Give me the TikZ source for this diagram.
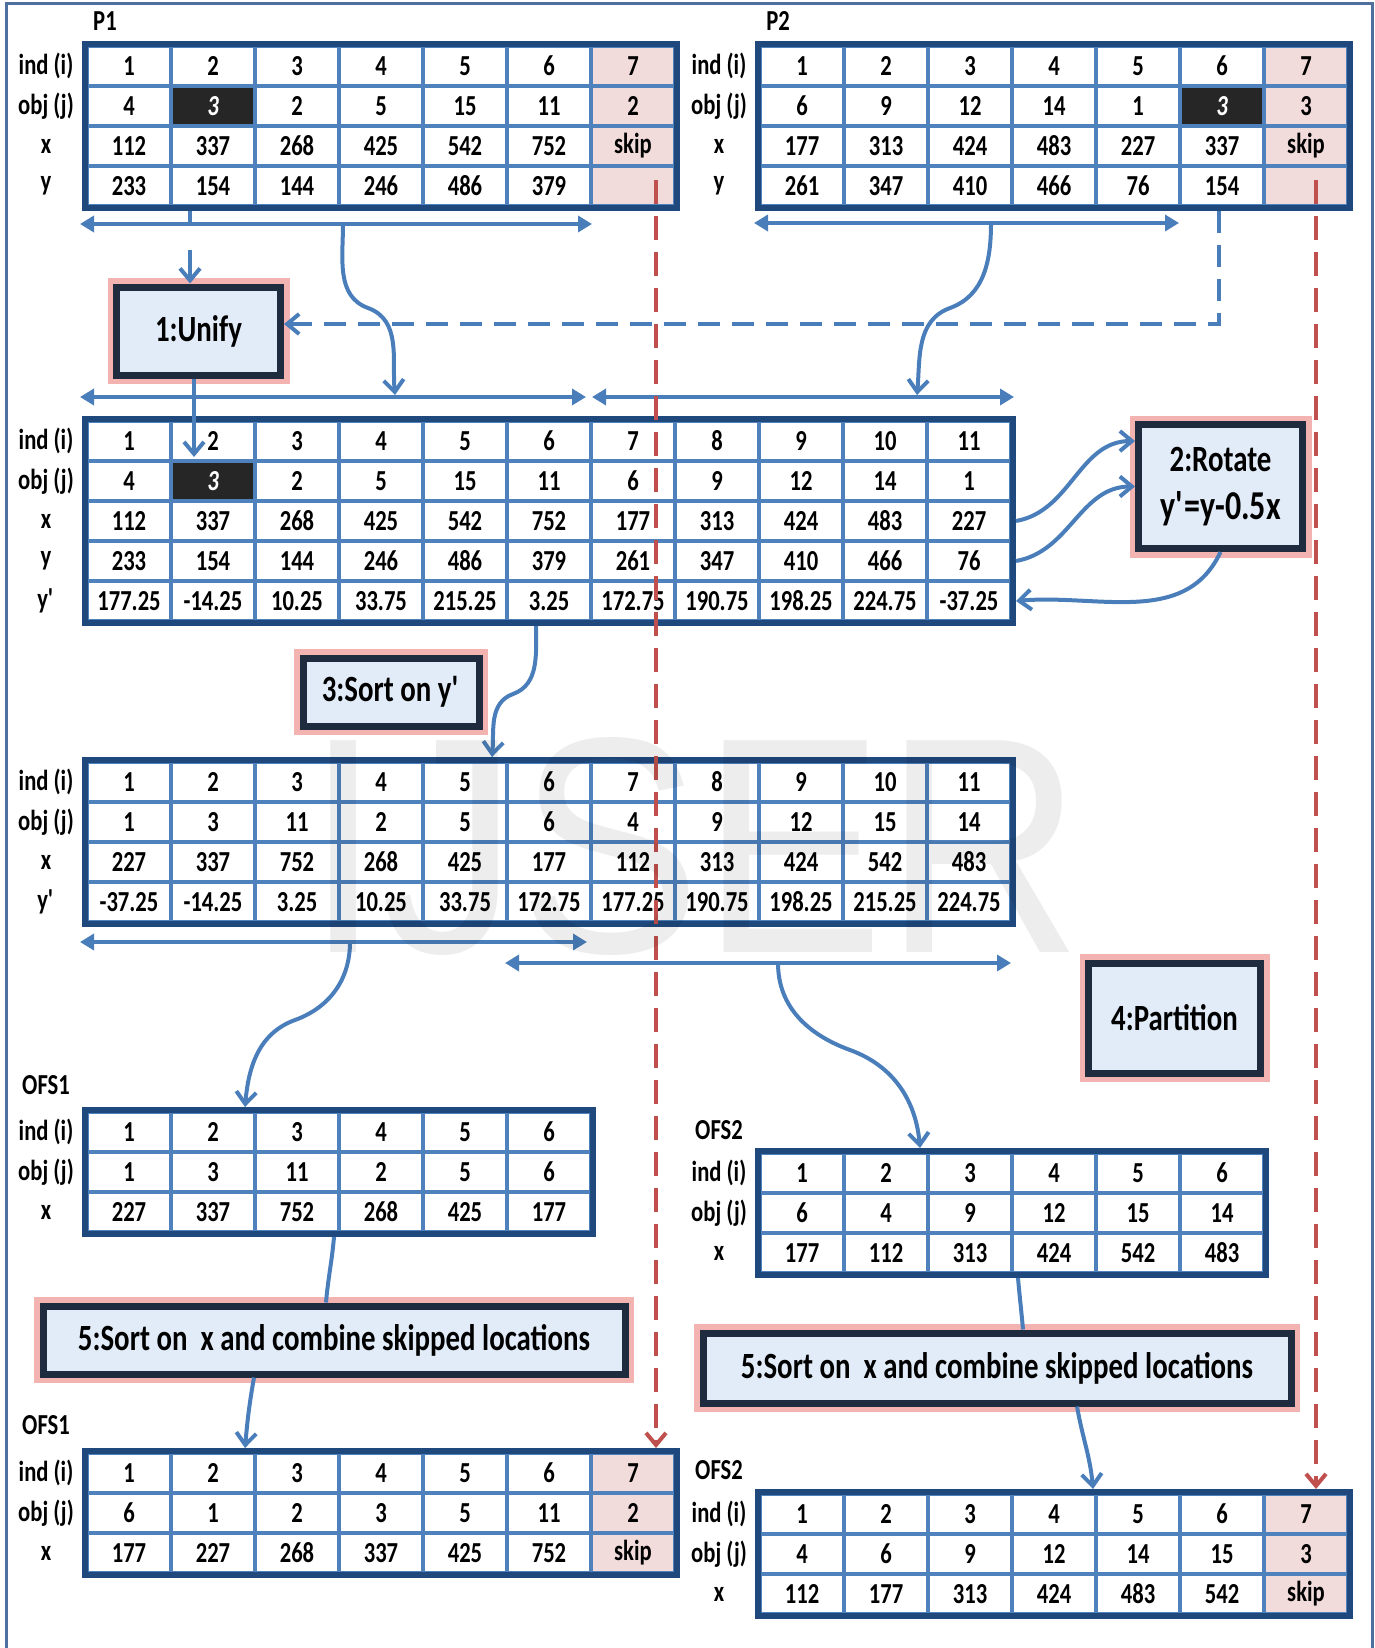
\documentclass[tikz,border=0pt]{standalone}
\usepackage{fontspec}
\setmainfont{Carlito}[FakeStretch=0.78]
\newfontfamily\wmfont{Liberation Sans}
\usetikzlibrary{arrows.meta,fit,positioning}

\definecolor{gridblue}{HTML}{4F81BD}
\definecolor{tabnavy}{HTML}{1F497D}
\definecolor{boxline}{HTML}{1F2C3F}
\definecolor{boxfill}{HTML}{E2ECF8}
\definecolor{glowpink}{HTML}{F2B3B1}
\definecolor{skipfill}{HTML}{F2DCDB}
\definecolor{hlfill}{HTML}{262626}
\definecolor{flowblue}{HTML}{4A7EBB}
\definecolor{skipred}{HTML}{C0504D}
\definecolor{framecol}{HTML}{4F6F9F}

\newcommand{\tabfont}{\fontsize{14.5}{16}\selectfont\bfseries}
\newcommand{\boxfont}{\fontsize{18.5}{24}\selectfont\bfseries}

% one table row: name, x of first cell, y, row label, cells
\newcommand{\tabrow}[5]{%
  \node[rowlab] (#1-lab) at (#2-83,#3) {#4};
  \foreach \val [count=\k] in {#5}
    \node[cell] (#1-\k) at (#2+84*\k-84,#3) {\val};
}

\begin{document}
\begin{tikzpicture}[x=0.5pt,y=-0.5pt,
  cell/.style={draw=gridblue,line width=2.2pt,fill=white,minimum width=42pt,minimum height=20pt,inner sep=0pt,outer sep=0pt,font=\tabfont},
  skipcell/.style={cell,fill=skipfill},
  hlcell/.style={cell,fill=hlfill,text=white,font=\tabfont\itshape},
  rowlab/.style={font=\tabfont},
  tablab/.style={font=\tabfont},
  tabframe/.style={draw=tabnavy,line width=3pt,inner sep=1pt},
  stepbox/.style={draw=boxline,line width=3.5pt,fill=boxfill,align=center,font=\boxfont,inner sep=2pt,preaction={draw=glowpink,line width=9pt}},
  span/.style={draw=flowblue,line width=2pt,{Triangle[length=7pt,width=8pt]}-{Triangle[length=7pt,width=8pt]}},
  link/.style={draw=flowblue,line width=2pt},
  flow/.style={link,-{Straight Barb[length=6pt,width=10pt]}},
  dashflow/.style={flow,dash pattern=on 11pt off 6pt},
  skipflow/.style={draw=skipred,line width=2pt,dash pattern=on 12pt off 6pt,-{Straight Barb[length=6pt,width=10pt]}},
  outframe/.style={draw=framecol,line width=1.5pt},
  wmark/.style={text=black,text opacity=0.07,font=\wmfont\fontsize{154}{154}\selectfont}]
  \useasboundingbox (0,0) rectangle (1375,1648);
  \draw[outframe] (6,1648) -- (6,4) -- (1372,4) -- (1372,1648);

  % P1
  \node[tablab] (p1-name) at (105,21) {P1};
  \tabrow{p1a}{129}{66}{ind (i)}{1,2,3,4,5,6}
  \tabrow{p1b}{129}{106}{obj (j)}{4,{},2,5,15,11}
  \tabrow{p1c}{129}{146}{x}{112,337,268,425,542,752}
  \tabrow{p1d}{129}{186}{y}{233,154,144,246,486,379}
  \node[hlcell] (p1b-hl) at (p1b-2) {3};
  \node[skipcell,right=0pt of p1a-6] (p1a-7) {7};
  \node[skipcell,right=0pt of p1b-6] (p1b-7) {2};
  \node[skipcell,right=0pt of p1c-6] (p1c-7) {skip};
  \node[skipcell,right=0pt of p1d-6] (p1d-7) {};
  \node[tabframe,fit=(p1a-1)(p1d-7)] (p1) {};

  % P2
  \node[tablab] (p2-name) at (778,21) {P2};
  \tabrow{p2a}{802}{66}{ind (i)}{1,2,3,4,5,6}
  \tabrow{p2b}{802}{106}{obj (j)}{6,9,12,14,1,{}}
  \tabrow{p2c}{802}{146}{x}{177,313,424,483,227,337}
  \tabrow{p2d}{802}{186}{y}{261,347,410,466,76,154}
  \node[hlcell] (p2b-hl) at (p2b-6) {3};
  \node[skipcell,right=0pt of p2a-6] (p2a-7) {7};
  \node[skipcell,right=0pt of p2b-6] (p2b-7) {3};
  \node[skipcell,right=0pt of p2c-6] (p2c-7) {skip};
  \node[skipcell,right=0pt of p2d-6] (p2d-7) {};
  \node[tabframe,fit=(p2a-1)(p2d-7)] (p2) {};

  % unified table
  \tabrow{mga}{129}{441}{ind (i)}{1,2,3,4,5,6,7,8,9,10,11}
  \tabrow{mgb}{129}{481}{obj (j)}{4,{},2,5,15,11,6,9,12,14,1}
  \tabrow{mgc}{129}{521}{x}{112,337,268,425,542,752,177,313,424,483,227}
  \tabrow{mgd}{129}{561}{y}{233,154,144,246,486,379,261,347,410,466,76}
  \tabrow{mge}{129}{601}{y\textquotesingle}{177.25,-14.25,10.25,33.75,215.25,3.25,172.75,190.75,198.25,224.75,-37.25}
  \node[hlcell] (mgb-hl) at (mgb-2) {3};
  \node[tabframe,fit=(mga-1)(mge-11)] (mg) {};

  % sorted on y'
  \tabrow{sra}{129}{782}{ind (i)}{1,2,3,4,5,6,7,8,9,10,11}
  \tabrow{srb}{129}{822}{obj (j)}{1,3,11,2,5,6,4,9,12,15,14}
  \tabrow{src}{129}{862}{x}{227,337,752,268,425,177,112,313,424,542,483}
  \tabrow{srd}{129}{902}{y\textquotesingle}{-37.25,-14.25,3.25,10.25,33.75,172.75,177.25,190.75,198.25,215.25,224.75}
  \node[tabframe,fit=(sra-1)(srd-11)] (srt) {};

  % OFS1 / OFS2
  \node[tablab] (ofs1-name) at (46,1085) {OFS1};
  \tabrow{fa}{129}{1132}{ind (i)}{1,2,3,4,5,6}
  \tabrow{fb}{129}{1172}{obj (j)}{1,3,11,2,5,6}
  \tabrow{fc}{129}{1212}{x}{227,337,752,268,425,177}
  \node[tabframe,fit=(fa-1)(fc-6)] (ofs1) {};
  \node[tablab] (ofs2-name) at (719,1130) {OFS2};
  \tabrow{ga}{802}{1173}{ind (i)}{1,2,3,4,5,6}
  \tabrow{gb}{802}{1213}{obj (j)}{6,4,9,12,15,14}
  \tabrow{gc}{802}{1253}{x}{177,112,313,424,542,483}
  \node[tabframe,fit=(ga-1)(gc-6)] (ofs2) {};

  % final OFS1 / OFS2
  \node[tablab] (ofs1s-name) at (46,1425) {OFS1};
  \tabrow{fsa}{129}{1473}{ind (i)}{1,2,3,4,5,6}
  \tabrow{fsb}{129}{1513}{obj (j)}{6,1,2,3,5,11}
  \tabrow{fsc}{129}{1553}{x}{177,227,268,337,425,752}
  \node[skipcell,right=0pt of fsa-6] (fsa-7) {7};
  \node[skipcell,right=0pt of fsb-6] (fsb-7) {2};
  \node[skipcell,right=0pt of fsc-6] (fsc-7) {skip};
  \node[tabframe,fit=(fsa-1)(fsc-7)] (ofs1s) {};
  \node[tablab] (ofs2s-name) at (719,1470) {OFS2};
  \tabrow{gsa}{802}{1514}{ind (i)}{1,2,3,4,5,6}
  \tabrow{gsb}{802}{1554}{obj (j)}{4,6,9,12,14,15}
  \tabrow{gsc}{802}{1594}{x}{112,177,313,424,483,542}
  \node[skipcell,right=0pt of gsa-6] (gsa-7) {7};
  \node[skipcell,right=0pt of gsb-6] (gsb-7) {3};
  \node[skipcell,right=0pt of gsc-6] (gsc-7) {skip};
  \node[tabframe,fit=(gsa-1)(gsc-7)] (ofs2s) {};

  % steps
  \node[stepbox,minimum width=82pt,minimum height=44pt] (unify) at (198.5,331) {1:Unify};
  \node[stepbox,minimum width=82pt,minimum height=62pt] (rot) at (1220.5,486.5) {2:Rotate\\{\fontsize{20.5}{24}\selectfont y\textquotesingle=y-0.5x}};
  \node[stepbox,minimum width=88pt,minimum height=34pt] (sorty) at (391,692) {3:Sort on y\textquotesingle};
  \node[stepbox,minimum width=86pt,minimum height=55pt] (part) at (1174.5,1018) {4:Partition};
  \node[stepbox,minimum width=291pt,minimum height=34pt] (sortA) at (334,1340) {5:Sort on\ \ x and combine skipped locations};
  \node[stepbox,minimum width=294pt,minimum height=35pt] (sortB) at (997,1368) {5:Sort on\ \ x and combine skipped locations};

  % spans
  \coordinate (s1l) at (80,224);  \coordinate (s1r) at (592,224);
  \coordinate (s2l) at (754,223); \coordinate (s2r) at (1179,223);
  \coordinate (s3l) at (80,397);  \coordinate (s3r) at (586,397);
  \coordinate (s4l) at (592,397); \coordinate (s4r) at (1014,397);
  \coordinate (s5l) at (80,942);  \coordinate (s5r) at (587,942);
  \coordinate (s6l) at (505,963); \coordinate (s6r) at (1011,963);
  \draw[span] (s1l) -- (s1r);
  \draw[span] (s2l) -- (s2r);
  \draw[span] (s3l) -- (s3r);
  \draw[span] (s4l) -- (s4r);
  \draw[span] (s5l) -- (s5r);
  \draw[span] (s6l) -- (s6r);

  % unify
  \coordinate (t1) at (190,224);
  \coordinate (t2) at (190,250);
  \coordinate (u1) at (194,457);
  \coordinate (d0) at (1219,324);
  \draw[link] (p1.south -| t1) -- (t1);
  \draw[flow] (t2) -- (unify.north -| t2);
  \draw[dashflow] (p2.south -| d0) -- (d0) -- (unify.east |- d0);
  \draw[flow] (unify.south -| u1) -- (u1);
  \coordinate (c1a) at (343,224); \coordinate (c1b) at (395,395);
  \coordinate (c2a) at (991,223); \coordinate (c2b) at (917,395);
  \draw[flow] (c1a) to[out=-90,in=160] (368,308) to[out=-20,in=95] (c1b);
  \draw[flow] (c2a) to[out=-90,in=20] (950,308) to[out=200,in=85] (c2b);

  % rotate
  \draw[flow] (mg.east |- mgc-11) to[out=10,in=180] (rot.152);
  \draw[flow] (mg.east |- mgd-11) to[out=10,in=180] (rot.180);
  \draw[flow] (rot.south) to[out=-115,in=5] (mg.east |- mge-11);

  % sort and partition
  \coordinate (k1) at (536,0); \coordinate (k2) at (492,0);
  \draw[flow] (mg.south -| k1) to[out=-90,in=20] (513,694) to[out=200,in=85] (srt.north -| k2);
  \coordinate (k3) at (350,942); \coordinate (k4) at (245,0);
  \draw[flow] (k3) to[out=-90,in=20] (295,1020) to[out=200,in=85] (ofs1.north -| k4);
  \coordinate (k5) at (778,963); \coordinate (k6) at (920,0);
  \draw[flow] (k5) to[out=-90,in=160] (850,1050) to[out=-20,in=95] (ofs2.north -| k6);

  % combine
  \coordinate (k7) at (334,0);  \coordinate (k8) at (326,0);
  \coordinate (k9) at (254,0);  \coordinate (k10) at (245,0);
  \coordinate (k11) at (1018,0); \coordinate (k12) at (1023,0);
  \coordinate (k13) at (1077,0); \coordinate (k14) at (1093,0);
  \draw[link] (ofs1.south -| k7) to[out=-95,in=85] (sortA.north -| k8);
  \draw[flow] (sortA.south -| k9) to[out=-100,in=85] (ofs1s.north -| k10);
  \draw[link] (ofs2.south -| k11) to[out=-85,in=95] (sortB.north -| k12);
  \draw[flow] (sortB.south -| k13) to[out=-80,in=95] (ofs2s.north -| k14);

  % skipped locations
  \coordinate (rA) at (656,180);
  \coordinate (rB) at (1316,180);
  \draw[skipflow] (rA) -- (ofs1s.north -| rA);
  \draw[skipflow] (rB) -- (ofs2s.north -| rB);

  \node[wmark] (wm) at (694,846) {\scalebox{0.89}[1]{IJSER}};
\end{tikzpicture}
\end{document}
